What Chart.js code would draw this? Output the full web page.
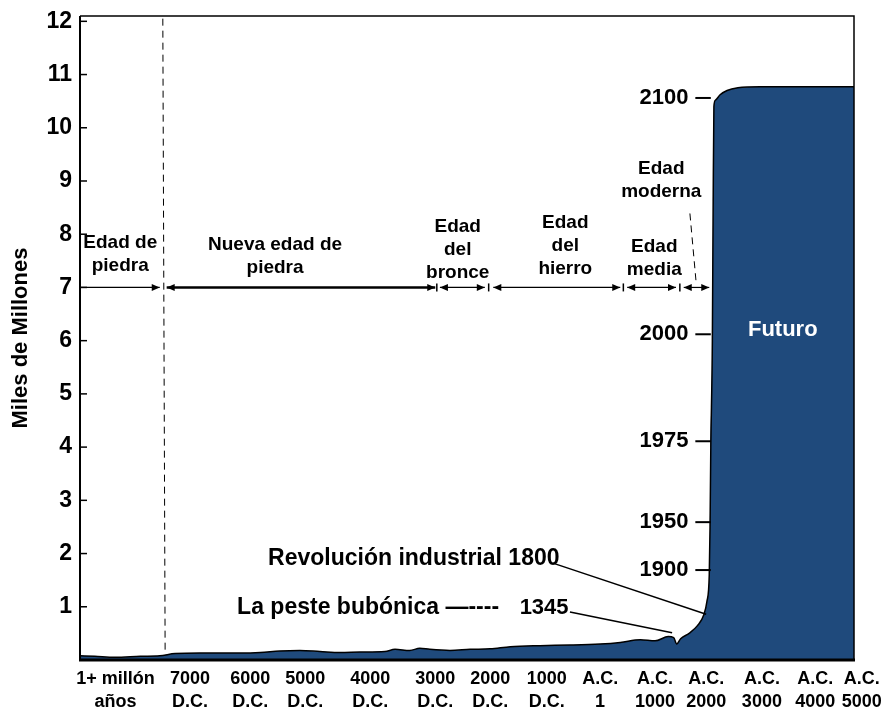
<!DOCTYPE html>
<html>
<head>
<meta charset="utf-8">
<script src="https://cdn.jsdelivr.net/npm/chart.js@4/dist/chart.umd.min.js"></script>
<style>
  html, body { margin: 0; padding: 0; background: #fff; }
  #wrap { width: 886px; height: 713px; }
</style>
</head>
<body>
<div id="wrap"><canvas id="poblacion"></canvas></div>
<script>
// posicion en la linea de tiempo (0-100) y poblacion en miles de millones
const timeline = [0, 1.9, 4.5, 7.8, 10.3, 12.3, 15.5, 20.7, 23.3, 25.8, 28.4, 31.0, 33.6, 36.2, 39.4, 40.7,
  42.6, 43.9, 45.2, 47.8, 50.4, 53.0, 55.6, 59.4, 63.3, 67.2, 69.8, 72.4, 74.3, 76.0, 76.7, 77.1, 77.6,
  78.7, 79.8, 80.6, 81.0, 81.3, 81.4, 81.5, 81.7, 81.8, 81.9, 82.1, 82.7, 83.6, 85.0, 87.9, 100];
const population = [0.08, 0.07, 0.05, 0.07, 0.08, 0.12, 0.13, 0.13, 0.14, 0.17, 0.18, 0.16, 0.14, 0.15, 0.16, 0.2,
  0.18, 0.22, 0.2, 0.18, 0.2, 0.21, 0.25, 0.27, 0.28, 0.3, 0.33, 0.38, 0.36, 0.44, 0.42, 0.3, 0.4,
  0.5, 0.65, 0.85, 1.1, 1.6, 2.5, 4.0, 6.0, 8.5, 10.4, 10.52, 10.62, 10.7, 10.75, 10.77, 10.77];

const tickPositions = [4.6, 14.2, 22.0, 29.1, 37.5, 45.9, 53.0, 60.3, 67.2, 74.3, 80.9, 88.1, 95.0, 101.0];
const tickLabels = [
  ['1+ millón', 'años'], ['7000', 'D.C.'], ['6000', 'D.C.'], ['5000', 'D.C.'], ['4000', 'D.C.'],
  ['3000', 'D.C.'], ['2000', 'D.C.'], ['1000', 'D.C.'], ['A.C.', '1'], ['A.C.', '1000'],
  ['A.C.', '2000'], ['A.C.', '3000'], ['A.C.', '4000'], ['A.C.', '5000']
];

// edades: texto y posicion del texto
const ages = [
  { lines: ['Edad de', 'piedra'], x: 5.2, y: 7.84 },
  { lines: ['Nueva edad de', 'piedra'], x: 25.2, y: 7.8 },
  { lines: ['Edad', 'del', 'bronce'], x: 48.8, y: 8.14 },
  { lines: ['Edad', 'del', 'hierro'], x: 62.7, y: 8.22 },
  { lines: ['Edad', 'media'], x: 74.2, y: 7.77 },
  { lines: ['Edad', 'moderna'], x: 75.1, y: 9.23 }
];
const arrowRow = 7;
const arrows = [
  { from: 0, to: 10.3, start: false, width: 1.2 },
  { from: 11.2, to: 45.9, start: true, width: 2.5 },
  { from: 46.5, to: 52.3, start: true, width: 1.2 },
  { from: 53.4, to: 69.8, start: true, width: 1.2 },
  { from: 70.7, to: 77.0, start: true, width: 1.2 },
  { from: 78.0, to: 81.3, start: true, width: 1.2 }
];
const separators = [46.1, 52.8, 70.2, 77.5];

const yearMarks = [
  { label: '2100', y: 10.56 },
  { label: '2000', y: 6.12 },
  { label: '1975', y: 4.11 },
  { label: '1950', y: 2.59 },
  { label: '1900', y: 1.69 }
];

const BLUE = '#1f4a7c';
const FONT = '"Liberation Sans", Arial, sans-serif';

function arrowHead(ctx, x, y, dir) {
  ctx.beginPath();
  ctx.moveTo(x, y);
  ctx.lineTo(x - dir * 8, y - 3.5);
  ctx.lineTo(x - dir * 8, y + 3.5);
  ctx.closePath();
  ctx.fill();
}

const annotations = {
  id: 'annotations',
  afterDatasetsDraw(chart) {
    const { ctx, chartArea: a, scales: { x, y } } = chart;
    const px = v => x.getPixelForValue(v);
    const py = v => y.getPixelForValue(v);
    ctx.save();
    ctx.fillStyle = '#000';
    ctx.strokeStyle = '#000';

    // caja del grafico
    ctx.lineWidth = 1.5;
    ctx.beginPath();
    ctx.moveTo(a.left, a.top); ctx.lineTo(a.right, a.top); ctx.lineTo(a.right, a.bottom);
    ctx.stroke();
    ctx.lineWidth = 2;
    ctx.beginPath(); ctx.moveTo(a.left, a.top); ctx.lineTo(a.left, a.bottom); ctx.stroke();
    ctx.lineWidth = 3;
    ctx.beginPath(); ctx.moveTo(a.left - 1, a.bottom); ctx.lineTo(a.right + 1, a.bottom); ctx.stroke();

    // marcas internas del eje y
    ctx.lineWidth = 1.5;
    for (let v = 1; v <= 12; v++) {
      ctx.beginPath(); ctx.moveTo(a.left, py(v)); ctx.lineTo(a.left + 7, py(v)); ctx.stroke();
    }

    // lineas discontinuas
    ctx.lineWidth = 1;
    ctx.setLineDash([7, 5]);
    ctx.beginPath(); ctx.moveTo(px(10.7), py(12.05)); ctx.lineTo(px(11.0), py(0.1)); ctx.stroke();
    ctx.beginPath(); ctx.moveTo(px(78.8), py(8.39)); ctx.lineTo(px(79.6), py(7.1)); ctx.stroke();
    ctx.setLineDash([]);

    // flechas de las edades
    const ay = py(arrowRow);
    arrows.forEach(r => {
      ctx.lineWidth = r.width;
      ctx.beginPath(); ctx.moveTo(px(r.from), ay); ctx.lineTo(px(r.to), ay); ctx.stroke();
      arrowHead(ctx, px(r.to), ay, 1);
      if (r.start) arrowHead(ctx, px(r.from), ay, -1);
    });
    ctx.lineWidth = 1.5;
    separators.forEach(s => {
      ctx.beginPath(); ctx.moveTo(px(s), ay - 4); ctx.lineTo(px(s), ay + 4); ctx.stroke();
    });

    ctx.textAlign = 'center';
    ctx.textBaseline = 'middle';
    ctx.font = 'bold 19px ' + FONT;
    ages.forEach(g => {
      g.lines.forEach((t, i) => ctx.fillText(t, px(g.x), py(g.y) + i * 23));
    });

    // años del crecimiento
    ctx.font = 'bold 22px ' + FONT;
    ctx.textAlign = 'right';
    yearMarks.forEach(m => {
      ctx.fillText(m.label, px(78.6), py(m.y));
      ctx.lineWidth = 2;
      ctx.beginPath(); ctx.moveTo(px(79.5), py(m.y)); ctx.lineTo(px(81.5), py(m.y)); ctx.stroke();
    });

    // revolucion industrial y peste
    ctx.textAlign = 'left';
    ctx.font = 'bold 23px ' + FONT;
    ctx.fillText('Revolución industrial 1800', px(24.3), py(1.91));
    ctx.fillText('La peste bubónica —----', px(20.3), py(0.98));
    ctx.font = 'bold 22px ' + FONT;
    ctx.fillText('1345', px(56.8), py(0.98));
    ctx.lineWidth = 1.5;
    ctx.beginPath(); ctx.moveTo(px(61.1), py(1.82)); ctx.lineTo(px(80.9), py(0.86)); ctx.stroke();
    ctx.beginPath(); ctx.moveTo(px(63.3), py(0.9)); ctx.lineTo(px(76.5), py(0.51)); ctx.stroke();

    ctx.fillStyle = '#fff';
    ctx.textAlign = 'center';
    ctx.font = 'bold 22px ' + FONT;
    ctx.fillText('Futuro', px(90.8), py(6.21));
    ctx.restore();
  }
};

new Chart(document.getElementById('poblacion'), {
  type: 'line',
  data: {
    datasets: [{
      data: timeline.map((t, i) => ({ x: t, y: population[i] })),
      fill: 'origin',
      backgroundColor: BLUE,
      borderColor: '#000',
      borderWidth: 1.5,
      pointRadius: 0,
      cubicInterpolationMode: 'monotone'
    }]
  },
  options: {
    responsive: true,
    maintainAspectRatio: false,
    animation: false,
    layout: { padding: { top: 16, right: 32, left: 0, bottom: 0 } },
    plugins: { legend: { display: false }, tooltip: { enabled: false } },
    scales: {
      x: {
        type: 'linear',
        min: 0,
        max: 100,
        grid: { display: false, drawTicks: false },
        border: { display: false },
        afterBuildTicks: s => { s.ticks = tickPositions.map(v => ({ value: v })); },
        afterFit: s => { s.height = 53; s.paddingLeft = 0; s.paddingRight = 0; },
        ticks: {
          autoSkip: false,
          maxRotation: 0,
          padding: 8,
          color: '#000',
          font: { family: FONT, size: 18, weight: 'bold', lineHeight: 1.25 },
          callback: (v, i) => tickLabels[i]
        }
      },
      y: {
        min: 0,
        max: 12.1,
        grid: { display: false, drawTicks: false },
        border: { display: false },
        afterBuildTicks: s => { s.ticks = [1, 2, 3, 4, 5, 6, 7, 8, 9, 10, 11, 12].map(v => ({ value: v })); },
        afterFit: s => { s.width = 80; s.paddingTop = 0; s.paddingBottom = 0; },
        ticks: {
          padding: 8,
          color: '#000',
          font: { family: FONT, size: 23, weight: 'bold' }
        },
        title: {
          display: true,
          text: 'Miles de Millones',
          color: '#000',
          padding: { top: 8, bottom: 0 },
          font: { family: FONT, size: 22, weight: 'bold' }
        }
      }
    }
  },
  plugins: [annotations]
});
</script>
</body>
</html>
